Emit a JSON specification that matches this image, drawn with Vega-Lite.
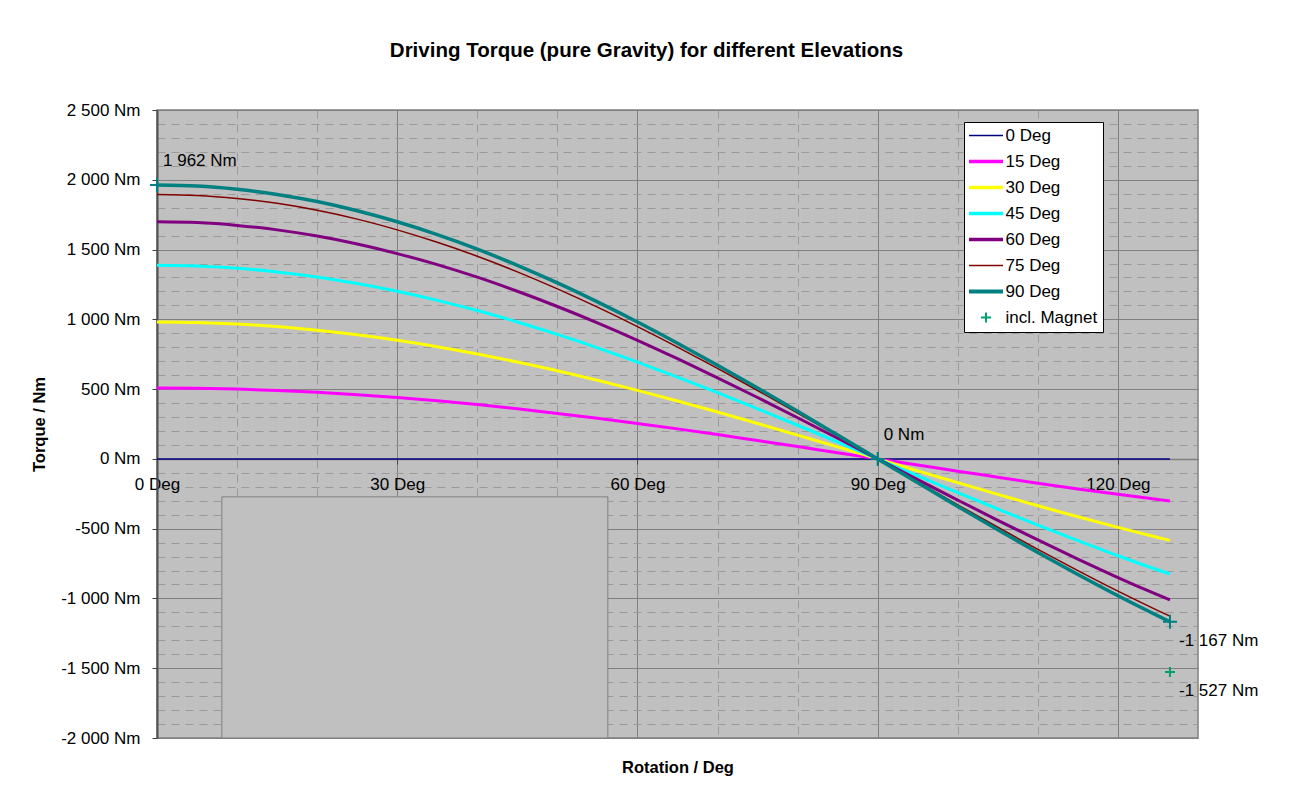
{
  "$schema": "https://vega.github.io/schema/vega-lite/v6.json",
  "width": 1041,
  "height": 628,
  "autosize": "none",
  "padding": {"left": 157, "top": 110, "right": 92, "bottom": 63},
  "background": "white",
  "title": {
    "text": "Driving Torque (pure Gravity) for different Elevations",
    "fontSize": 20.5,
    "fontWeight": "bold",
    "color": "black",
    "anchor": "middle",
    "frame": "group",
    "dx": -31,
    "baseline": "bottom",
    "offset": 20
  },
  "datasets": {
    "torque": [
      {"Rotation": 0, "0 Deg": 0, "15 Deg": 508, "30 Deg": 981, "45 Deg": 1387, "60 Deg": 1699, "75 Deg": 1895, "90 Deg": 1962},
      {"Rotation": 5, "0 Deg": 0, "15 Deg": 506, "30 Deg": 977, "45 Deg": 1382, "60 Deg": 1693, "75 Deg": 1888, "90 Deg": 1955},
      {"Rotation": 10, "0 Deg": 0, "15 Deg": 500, "30 Deg": 966, "45 Deg": 1366, "60 Deg": 1673, "75 Deg": 1866, "90 Deg": 1932},
      {"Rotation": 15, "0 Deg": 0, "15 Deg": 490, "30 Deg": 948, "45 Deg": 1340, "60 Deg": 1641, "75 Deg": 1831, "90 Deg": 1895},
      {"Rotation": 20, "0 Deg": 0, "15 Deg": 477, "30 Deg": 922, "45 Deg": 1304, "60 Deg": 1597, "75 Deg": 1781, "90 Deg": 1844},
      {"Rotation": 25, "0 Deg": 0, "15 Deg": 460, "30 Deg": 889, "45 Deg": 1257, "60 Deg": 1540, "75 Deg": 1718, "90 Deg": 1778},
      {"Rotation": 30, "0 Deg": 0, "15 Deg": 440, "30 Deg": 850, "45 Deg": 1201, "60 Deg": 1471, "75 Deg": 1641, "90 Deg": 1699},
      {"Rotation": 35, "0 Deg": 0, "15 Deg": 416, "30 Deg": 804, "45 Deg": 1136, "60 Deg": 1392, "75 Deg": 1552, "90 Deg": 1607},
      {"Rotation": 40, "0 Deg": 0, "15 Deg": 389, "30 Deg": 751, "45 Deg": 1063, "60 Deg": 1302, "75 Deg": 1452, "90 Deg": 1503},
      {"Rotation": 45, "0 Deg": 0, "15 Deg": 359, "30 Deg": 694, "45 Deg": 981, "60 Deg": 1201, "75 Deg": 1340, "90 Deg": 1387},
      {"Rotation": 50, "0 Deg": 0, "15 Deg": 326, "30 Deg": 631, "45 Deg": 892, "60 Deg": 1092, "75 Deg": 1218, "90 Deg": 1261},
      {"Rotation": 55, "0 Deg": 0, "15 Deg": 291, "30 Deg": 563, "45 Deg": 796, "60 Deg": 975, "75 Deg": 1087, "90 Deg": 1125},
      {"Rotation": 60, "0 Deg": 0, "15 Deg": 254, "30 Deg": 491, "45 Deg": 694, "60 Deg": 850, "75 Deg": 948, "90 Deg": 981},
      {"Rotation": 65, "0 Deg": 0, "15 Deg": 215, "30 Deg": 415, "45 Deg": 586, "60 Deg": 718, "75 Deg": 801, "90 Deg": 829},
      {"Rotation": 70, "0 Deg": 0, "15 Deg": 174, "30 Deg": 336, "45 Deg": 475, "60 Deg": 581, "75 Deg": 648, "90 Deg": 671},
      {"Rotation": 75, "0 Deg": 0, "15 Deg": 131, "30 Deg": 254, "45 Deg": 359, "60 Deg": 440, "75 Deg": 490, "90 Deg": 508},
      {"Rotation": 80, "0 Deg": 0, "15 Deg": 88, "30 Deg": 170, "45 Deg": 241, "60 Deg": 295, "75 Deg": 329, "90 Deg": 341},
      {"Rotation": 85, "0 Deg": 0, "15 Deg": 44, "30 Deg": 86, "45 Deg": 121, "60 Deg": 148, "75 Deg": 165, "90 Deg": 171},
      {"Rotation": 90, "0 Deg": 0, "15 Deg": 0, "30 Deg": 0, "45 Deg": 0, "60 Deg": 0, "75 Deg": 0, "90 Deg": 0},
      {"Rotation": 95, "0 Deg": 0, "15 Deg": -44, "30 Deg": -86, "45 Deg": -121, "60 Deg": -148, "75 Deg": -165, "90 Deg": -171},
      {"Rotation": 100, "0 Deg": 0, "15 Deg": -88, "30 Deg": -170, "45 Deg": -241, "60 Deg": -295, "75 Deg": -329, "90 Deg": -341},
      {"Rotation": 105, "0 Deg": 0, "15 Deg": -131, "30 Deg": -254, "45 Deg": -359, "60 Deg": -440, "75 Deg": -490, "90 Deg": -508},
      {"Rotation": 110, "0 Deg": 0, "15 Deg": -174, "30 Deg": -336, "45 Deg": -475, "60 Deg": -581, "75 Deg": -648, "90 Deg": -671},
      {"Rotation": 115, "0 Deg": 0, "15 Deg": -215, "30 Deg": -415, "45 Deg": -586, "60 Deg": -718, "75 Deg": -801, "90 Deg": -829},
      {"Rotation": 120, "0 Deg": 0, "15 Deg": -254, "30 Deg": -491, "45 Deg": -694, "60 Deg": -850, "75 Deg": -948, "90 Deg": -981},
      {"Rotation": 125, "0 Deg": 0, "15 Deg": -291, "30 Deg": -563, "45 Deg": -796, "60 Deg": -975, "75 Deg": -1087, "90 Deg": -1125},
      {"Rotation": 126.5, "0 Deg": 0, "15 Deg": -302, "30 Deg": -584, "45 Deg": -825, "60 Deg": -1011, "75 Deg": -1127, "90 Deg": -1167}
    ],
    "magnet": [{"Rotation": 126.5, "Torque": -1527, "Series": "incl. Magnet"}],
    "markers": [
      {"Rotation": 0, "Torque": 1962},
      {"Rotation": 90, "Torque": 0},
      {"Rotation": 126.5, "Torque": -1167}
    ],
    "labelsAbove": [
      {"Rotation": 0, "Torque": 1962, "label": "1 962 Nm"},
      {"Rotation": 90, "Torque": 0, "label": "0 Nm"}
    ],
    "labelsBelow": [
      {"Rotation": 126.5, "Torque": -1167, "label": "-1 167 Nm"},
      {"Rotation": 126.5, "Torque": -1527, "label": "-1 527 Nm"}
    ],
    "box": [{"x1": 8.1, "x2": 56.3, "y1": -272, "y2": -2000}]
  },
  "layer": [
    {
      "data": {"name": "box"},
      "mark": {"type": "rect", "fill": "#C0C0C0", "stroke": "#808080", "strokeWidth": 1},
      "encoding": {
        "x": {
          "field": "x1", "type": "quantitative",
          "scale": {"domain": [0, 130], "nice": false, "zero": false},
          "axis": {"orient": "bottom", "values": [10, 20, 40, 50, 70, 80, 100, 110], "grid": true, "gridDash": [8, 6], "gridColor": "#9a9a9a", "gridWidth": 1, "labels": false, "ticks": false, "domain": false, "title": null}
        },
        "x2": {"field": "x2"},
        "y": {
          "field": "y1", "type": "quantitative",
          "scale": {"domain": [-2000, 2500], "nice": false, "zero": false},
          "axis": {"orient": "left", "values": [-1900, -1800, -1700, -1600, -1400, -1300, -1200, -1100, -900, -800, -700, -600, -400, -300, -200, -100, 100, 200, 300, 400, 600, 700, 800, 900, 1100, 1200, 1300, 1400, 1600, 1700, 1800, 1900, 2100, 2200, 2300, 2400], "grid": true, "gridDash": [8, 6], "gridColor": "#9a9a9a", "gridWidth": 1, "labels": false, "ticks": false, "domain": false, "title": null}
        },
        "y2": {"field": "y2"}
      }
    },
    {
      "data": {"name": "torque"},
      "transform": [{"fold": ["0 Deg", "15 Deg", "30 Deg", "45 Deg", "60 Deg", "75 Deg", "90 Deg"], "as": ["Series", "Torque"]}],
      "mark": {"type": "line", "interpolate": "monotone"},
      "encoding": {
        "x": {
          "field": "Rotation", "type": "quantitative",
          "axis": {"orient": "bottom", "offset": -279, "values": [0, 30, 60, 90, 120], "grid": true, "gridColor": "#808080", "gridWidth": 1, "labelExpr": "datum.value + ' Deg'", "labelFlush": false, "labelOverlap": false, "labelFontSize": 17, "labelColor": "black", "labelPadding": 12, "tickSize": 5, "tickColor": "#404040", "domain": true, "domainColor": "#808080", "domainWidth": 1.5, "title": null}
        },
        "y": {
          "field": "Torque", "type": "quantitative",
          "axis": {"orient": "left", "values": [-2000, -1500, -1000, -500, 0, 500, 1000, 1500, 2000, 2500], "grid": true, "gridColor": "#808080", "gridWidth": 1, "format": ",d", "labelExpr": "datum.label + ' Nm'", "labelFlush": false, "labelOverlap": false, "labelFontSize": 17, "labelColor": "black", "labelPadding": 12, "tickSize": 5, "tickColor": "#404040", "domainColor": "#505050", "domainWidth": 2, "title": "Torque / Nm", "titleFontSize": 16.5, "titleFontWeight": "bold", "titleColor": "black", "titlePadding": 13}
        },
        "color": {
          "field": "Series", "type": "nominal",
          "scale": {
            "domain": ["0 Deg", "15 Deg", "30 Deg", "45 Deg", "60 Deg", "75 Deg", "90 Deg", "incl. Magnet"],
            "range": ["#000080", "#FF00FF", "#FFFF00", "#00FFFF", "#800080", "#800000", "#008080", "#00A070"]
          },
          "legend": {
            "title": null,
            "orient": "none",
            "legendX": 807,
            "legendY": 12,
            "fillColor": "white",
            "strokeColor": "black",
            "padding": 5,
            "labelFontSize": 17,
            "labelColor": "black",
            "labelOffset": 11,
            "symbolOffset": 8.5,
            "labelLimit": 200,
            "symbolSize": 1156,
            "rowPadding": 8,
            "encode": {
              "symbols": {
                "update": {
                  "strokeWidth": {"signal": "datum.value === '0 Deg' || datum.value === '75 Deg' ? 1.5 : (datum.value === '90 Deg' ? 4 : (datum.value === 'incl. Magnet' ? 2 : 3.5))"},
                  "shape": {"signal": "datum.value === 'incl. Magnet' ? 'M-0.3,0H0.3M0,-0.3V0.3' : 'stroke'"}
                }
              }
            }
          }
        },
        "strokeWidth": {
          "condition": [
            {"test": "datum.Series === '0 Deg' || datum.Series === '75 Deg'", "value": 1.5},
            {"test": "datum.Series === '90 Deg'", "value": 3.5}
          ],
          "value": 3
        }
      }
    },
    {
      "data": {"name": "magnet"},
      "mark": {"type": "point", "shape": "M-1,0H1M0,-1V1", "size": 100, "filled": false, "strokeWidth": 2, "opacity": 1},
      "encoding": {
        "x": {
          "field": "Rotation", "type": "quantitative",
          "axis": {"orient": "bottom", "labels": false, "ticks": false, "domain": false, "grid": false, "title": "Rotation / Deg", "titleFontSize": 16.5, "titleFontWeight": "bold", "titleColor": "black", "titlePadding": 21}
        },
        "y": {"field": "Torque", "type": "quantitative", "axis": null},
        "color": {"field": "Series", "type": "nominal"}
      }
    },
    {
      "data": {"name": "markers"},
      "mark": {"type": "point", "shape": "M-1,0H1M0,-1V1", "size": 196, "filled": false, "stroke": "#008080", "strokeWidth": 2, "opacity": 1},
      "encoding": {
        "x": {"field": "Rotation", "type": "quantitative", "axis": null},
        "y": {"field": "Torque", "type": "quantitative", "axis": null}
      }
    },
    {
      "data": {"name": "labelsAbove"},
      "mark": {"type": "text", "align": "left", "baseline": "middle", "dx": 6, "dy": -24, "fontSize": 17, "color": "black"},
      "encoding": {
        "x": {"field": "Rotation", "type": "quantitative", "axis": null},
        "y": {"field": "Torque", "type": "quantitative", "axis": null},
        "text": {"field": "label"}
      }
    },
    {
      "data": {"name": "labelsBelow"},
      "mark": {"type": "text", "align": "left", "baseline": "middle", "dx": 9, "dy": 19, "fontSize": 17, "color": "black"},
      "encoding": {
        "x": {"field": "Rotation", "type": "quantitative", "axis": null},
        "y": {"field": "Torque", "type": "quantitative", "axis": null},
        "text": {"field": "label"}
      }
    }
  ],
  "resolve": {"axis": {"x": "independent", "y": "independent"}},
  "config": {
    "font": "Liberation Sans",
    "locale": {
      "number": {"decimal": ",", "thousands": " ", "grouping": [3], "currency": ["", ""], "minus": "-"}
    },
    "view": {"fill": "#C0C0C0", "stroke": "#808080", "strokeWidth": 1.5},
    "axis": {"labelFont": "Liberation Sans", "titleFont": "Liberation Sans"},
    "legend": {"labelFont": "Liberation Sans"},
    "text": {"font": "Liberation Sans"}
  }
}
